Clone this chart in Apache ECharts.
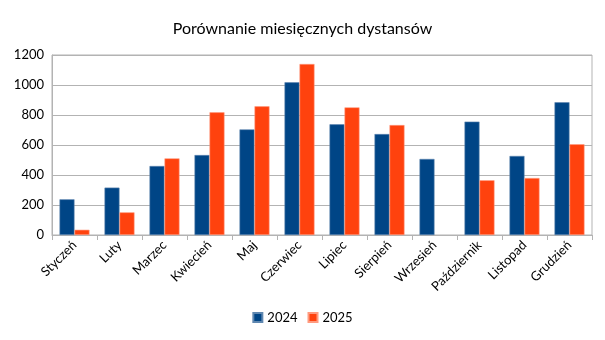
<!DOCTYPE html>
<html>
<head>
<meta charset="utf-8">
<script src="https://cdn.jsdelivr.net/npm/echarts@6/dist/echarts.min.js"></script>
<style>
html,body{margin:0;padding:0;background:#fff;}
#chart{width:605px;height:340px;}
</style>
</head>
<body>
<div id="chart"></div>
<script>
// Monthly distances compared year over year
const months = ['Styczeń','Luty','Marzec','Kwiecień','Maj','Czerwiec','Lipiec','Sierpień','Wrzesień','Październik','Listopad','Grudzień'];
const values2024 = [238, 316, 460, 533, 704, 1018, 738, 673, 507, 756, 527, 885];
const values2025 = [35, 151, 511, 818, 858, 1140, 851, 733, null, 365, 380, 605];
const yTicks = [0, 200, 400, 600, 800, 1000, 1200];

const font = 'Lato, "Open Sans", sans-serif';
const chart = echarts.init(document.getElementById('chart'));
chart.setOption({
  animation: false,
  title: {
    text: 'Porównanie miesięcznych dystansów',
    left: 'center',
    top: 16,
    textStyle: { fontFamily: font, fontSize: 16, fontWeight: 'normal', color: '#000' }
  },
  legend: {
    bottom: 11,
    left: 'center',
    itemWidth: 9,
    itemHeight: 9,
    itemGap: 10,
    icon: 'rect',
    textStyle: { fontFamily: font, fontSize: 13, color: '#000' },
    data: ['2024', '2025']
  },
  grid: {
    left: 52, right: 13, top: 55, bottom: 105,
    show: true, borderColor: '#b3b3b3', borderWidth: 1
  },
  xAxis: {
    type: 'category',
    data: months,
    axisLine: { lineStyle: { color: '#b3b3b3' } },
    axisTick: { show: true, length: 5, lineStyle: { color: '#b3b3b3' } },
    axisLabel: { rotate: 45, fontFamily: font, fontSize: 13, color: '#000', margin: 8, interval: 0 }
  },
  yAxis: {
    type: 'value',
    min: yTicks[0],
    max: yTicks[yTicks.length - 1],
    interval: yTicks[1] - yTicks[0],
    axisLine: { show: true, lineStyle: { color: '#b3b3b3' } },
    axisTick: { show: false },
    splitLine: { lineStyle: { color: '#b3b3b3' } },
    axisLabel: { fontFamily: font, fontSize: 13, color: '#000', margin: 8, formatter: v => String(v) }
  },
  series: [
    {
      name: '2024', type: 'bar', data: values2024, barWidth: 15, barGap: '0%',
      itemStyle: { color: '#004586', borderColor: '#5f87b0', borderWidth: 0.6 }
    },
    {
      name: '2025', type: 'bar', data: values2025, barWidth: 15,
      itemStyle: { color: '#ff420e', borderColor: '#ff9b80', borderWidth: 0.6 }
    }
  ]
});
</script>
</body>
</html>
